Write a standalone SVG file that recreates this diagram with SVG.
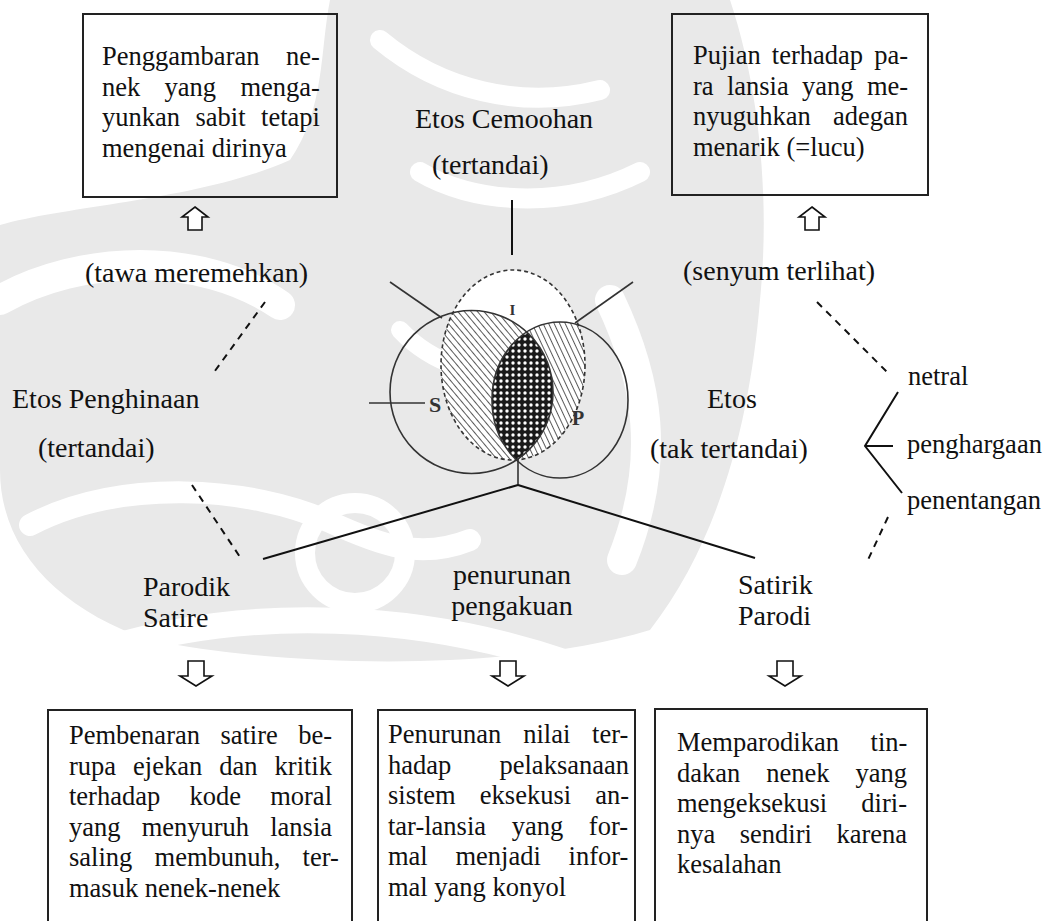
<svg xmlns="http://www.w3.org/2000/svg" width="1045" height="921" viewBox="0 0 1045 921">
<style>
.lbl{font-family:"Liberation Serif","Times New Roman",serif;font-size:28px;fill:#111}
.bt{font-family:"Liberation Serif","Times New Roman",serif;font-size:26.5px;fill:#111}
.box{fill:none;stroke:#222;stroke-width:2}
.arr{fill:#fff;stroke:#111;stroke-width:1.6;stroke-linejoin:miter}
.ln{stroke:#111;stroke-width:2;fill:none}
.dash{stroke:#111;stroke-width:2;fill:none;stroke-dasharray:7 6}
.vl{stroke:#333;stroke-width:1.6;fill:none}
.vlab{font-family:"Liberation Serif","Times New Roman",serif;font-weight:bold;fill:#333}
.wm{fill:#e9e9e9}
.wc{fill:none;stroke:#fff;stroke-linecap:round}
</style>
<defs>
<pattern id="hatchL" width="5" height="5" patternUnits="userSpaceOnUse" patternTransform="rotate(-40)"><line x1="0" y1="0" x2="0" y2="5" stroke="#222" stroke-width="1.5"/></pattern>
<pattern id="hatchR" width="5" height="5" patternUnits="userSpaceOnUse" patternTransform="rotate(-25)"><line x1="0" y1="0" x2="0" y2="5" stroke="#222" stroke-width="1.5"/></pattern>
<pattern id="dots" width="6" height="6" patternUnits="userSpaceOnUse"><rect width="6" height="6" fill="#1a1a1a"/><circle cx="3" cy="3" r="1.7" fill="#fff"/></pattern>
<clipPath id="cS"><circle cx="471.5" cy="392" r="81.5"/></clipPath>
<clipPath id="cP"><ellipse cx="560" cy="400" rx="68" ry="78"/></clipPath>
<clipPath id="cI"><ellipse cx="513" cy="365" rx="72" ry="95"/></clipPath>
</defs>
<rect width="1045" height="921" fill="#fff"/>

<g id="watermark">
<path class="wm" d="M330,0 L730,0 C760,90 770,200 760,300 C750,420 720,540 650,630 C520,670 300,670 150,640 C60,610 0,550 0,470 L0,225 C70,205 200,200 290,160 C325,110 320,50 330,0 Z"/>
<path class="wc" stroke-width="30" d="M0,300 C80,255 200,250 280,305"/>
<path class="wc" stroke-width="22" d="M30,525 C120,478 250,486 330,522 C380,545 420,560 470,540"/>
<circle class="wc" stroke-width="20" cx="355" cy="553" r="50"/>
<path class="wc" stroke-width="26" d="M110,648 C250,606 420,612 570,664"/>
<path class="wc" stroke-width="18" d="M400,330 C430,362 480,382 540,374"/>
<path class="wc" stroke-width="30" d="M610,300 C648,380 662,460 622,560"/>
<path class="wc" stroke-width="20" d="M380,40 C440,90 520,110 600,90"/>
<path class="wc" stroke-width="20" d="M420,172 C470,202 560,212 640,172"/>
</g>

<g id="box-top-left">
<rect class="box" x="83" y="14" width="254" height="183"/>
<text class="bt" x="102" y="65" style="word-spacing:20px">Penggambaran ne-</text>
<text class="bt" x="102" y="95.5" style="word-spacing:17.7px">nek yang menga-</text>
<text class="bt" x="102" y="126" style="word-spacing:8.9px">yunkan sabit tetapi</text>
<text class="bt" x="102" y="156.5">mengenai dirinya</text>
</g>

<g id="box-top-right">
<rect class="box" x="672" y="14" width="256" height="181"/>
<text class="bt" x="693" y="64" style="word-spacing:4.5px">Pujian terhadap pa-</text>
<text class="bt" x="693" y="94.5" style="word-spacing:6.7px">ra lansia yang me-</text>
<text class="bt" x="693" y="125" style="word-spacing:15.6px">nyuguhkan adegan</text>
<text class="bt" x="693" y="155.5">menarik (=lucu)</text>
</g>

<g id="box-bottom-left">
<rect class="box" x="48" y="710" width="304" height="220"/>
<text class="bt" x="69" y="744" style="word-spacing:13.8px">Pembenaran satire be-</text>
<text class="bt" x="69" y="774.5" style="word-spacing:10.4px">rupa ejekan dan kritik</text>
<text class="bt" x="69" y="805" style="word-spacing:22.6px">terhadap kode moral</text>
<text class="bt" x="69" y="835.5" style="word-spacing:14.5px">yang menyuruh lansia</text>
<text class="bt" x="69" y="866" style="word-spacing:15.6px">saling membunuh, ter-</text>
<text class="bt" x="69" y="896.5">masuk nenek-nenek</text>
</g>

<g id="box-bottom-middle">
<rect class="box" x="378" y="710" width="257" height="220"/>
<text class="bt" x="388" y="743" style="word-spacing:15.2px">Penurunan nilai ter-</text>
<text class="bt" x="388" y="773.5" style="word-spacing:41.6px">hadap pelaksanaan</text>
<text class="bt" x="388" y="804" style="word-spacing:17.5px">sistem eksekusi an-</text>
<text class="bt" x="388" y="834.5" style="word-spacing:19px">tar-lansia yang for-</text>
<text class="bt" x="388" y="865" style="word-spacing:21.1px">mal menjadi infor-</text>
<text class="bt" x="388" y="895.5">mal yang konyol</text>
</g>

<g id="box-bottom-right">
<rect class="box" x="655" y="709" width="272" height="220"/>
<text class="bt" x="677" y="751" style="word-spacing:25px">Memparodikan tin-</text>
<text class="bt" x="677" y="781.5" style="word-spacing:19.3px">dakan nenek yang</text>
<text class="bt" x="677" y="812" style="word-spacing:27.6px">mengeksekusi diri-</text>
<text class="bt" x="677" y="842.5" style="word-spacing:17.9px">nya sendiri karena</text>
<text class="bt" x="677" y="873">kesalahan</text>
</g>

<g id="arrows">
<path class="arr" d="M195,207 L208,217 L202,217 L202,230 L188,230 L188,217 L182,217 Z"/>
<path class="arr" d="M812,207 L825,217 L819,217 L819,230 L805,230 L805,217 L799,217 Z"/>
<path class="arr" d="M188,661 L204,661 L204,676 L212,676 L196,686 L180,676 L188,676 Z"/>
<path class="arr" d="M500,661 L516,661 L516,676 L524,676 L508,686 L492,676 L500,676 Z"/>
<path class="arr" d="M777,661 L793,661 L793,676 L801,676 L785,686 L769,676 L777,676 Z"/>
</g>

<g id="venn">
<g clip-path="url(#cI)">
<rect x="430" y="260" width="170" height="210" fill="#fff"/>
<g clip-path="url(#cS)"><rect x="380" y="260" width="280" height="230" fill="url(#hatchL)"/></g>
<g clip-path="url(#cP)"><rect x="380" y="260" width="280" height="230" fill="url(#hatchR)"/></g>
<g clip-path="url(#cS)"><g clip-path="url(#cP)"><rect x="380" y="260" width="280" height="230" fill="url(#dots)"/></g></g>
</g>
<circle class="vl" cx="471.5" cy="392" r="81.5"/>
<ellipse class="vl" cx="560" cy="400" rx="68" ry="78"/>
<ellipse class="vl" cx="513" cy="365" rx="72" ry="95" stroke-dasharray="4 3"/>
<text class="vlab" x="512.5" y="315" font-size="15" text-anchor="middle">I</text>
<text class="vlab" x="429" y="412" font-size="22">S</text>
<text class="vlab" x="572" y="425" font-size="20">P</text>
</g>

<g id="connectors">
<line class="ln" x1="512" y1="200" x2="512" y2="255"/>
<line class="vl" x1="390" y1="282" x2="442" y2="318"/>
<line class="vl" x1="633" y1="282" x2="575" y2="323"/>
<line class="vl" x1="369" y1="403" x2="425" y2="403"/>
<line class="vl" x1="518" y1="459" x2="518" y2="485"/>
<line class="ln" x1="518" y1="485" x2="263" y2="559"/>
<line class="ln" x1="518" y1="485" x2="755" y2="558"/>
<line class="dash" x1="265" y1="302" x2="212" y2="375"/>
<line class="dash" x1="192" y1="485" x2="240" y2="557"/>
<line class="dash" x1="817" y1="302" x2="888" y2="373"/>
<line class="dash" x1="888" y1="517" x2="867" y2="562"/>
<polyline class="ln" points="898,392 865,446 902,493"/>
<line class="ln" x1="865" y1="446" x2="893" y2="446"/>
</g>

<g id="labels">
<text class="lbl" x="415" y="128">Etos Cemoohan</text>
<text class="lbl" x="432" y="174">(tertandai)</text>
<text class="lbl" x="85" y="282">(tawa meremehkan)</text>
<text class="lbl" x="683" y="280">(senyum terlihat)</text>
<text class="lbl" x="12" y="408">Etos Penghinaan</text>
<text class="lbl" x="38" y="457">(tertandai)</text>
<text class="lbl" x="707" y="408">Etos</text>
<text class="lbl" x="650" y="458">(tak tertandai)</text>
<text class="bt" x="908" y="385">netral</text>
<text class="bt" x="907" y="453">penghargaan</text>
<text class="bt" x="907" y="509">penentangan</text>
<text class="lbl" x="143" y="596">Parodik</text>
<text class="lbl" x="143" y="627">Satire</text>
<text class="lbl" x="512" y="584" text-anchor="middle">penurunan</text>
<text class="lbl" x="512" y="615" text-anchor="middle">pengakuan</text>
<text class="lbl" x="738" y="594">Satirik</text>
<text class="lbl" x="738" y="625">Parodi</text>
</g>
</svg>
